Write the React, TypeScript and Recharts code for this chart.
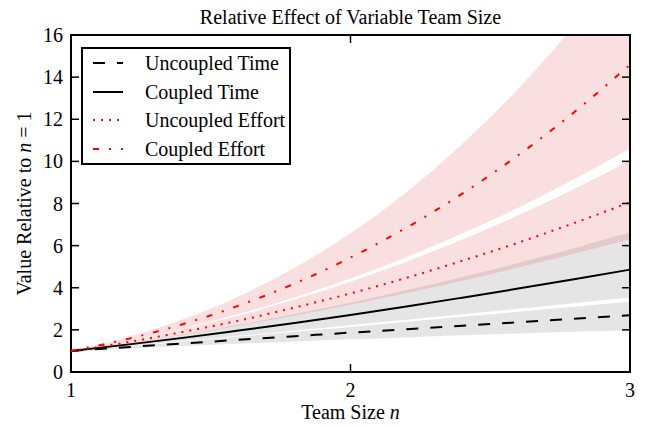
import React from 'react';
import { ComposedChart, Area, Line, XAxis, YAxis, Legend, Label, ReferenceArea } from 'recharts';

// ---- data ----
const teamSize = [1, 1.2, 1.4, 1.6, 1.8, 2, 2.2, 2.4, 2.6, 2.8, 3];
const uncoupledTime = [1, 1.18, 1.35, 1.53, 1.7, 1.87, 2.03, 2.2, 2.36, 2.53, 2.69];
const coupledTime = [1, 1.3, 1.62, 1.97, 2.33, 2.71, 3.11, 3.53, 3.96, 4.4, 4.86];
const uncoupledEffort = [1, 1.41, 1.9, 2.44, 3.06, 3.73, 4.47, 5.28, 6.14, 7.07, 8.06];
const coupledEffort = [1, 1.56, 2.27, 3.15, 4.2, 5.43, 6.85, 8.47, 10.29, 12.33, 14.59];
const uncoupledTimeLow = [1, 1.12, 1.24, 1.34, 1.45, 1.55, 1.64, 1.74, 1.83, 1.91, 2.0];
const uncoupledTimeHigh = [1, 1.22, 1.45, 1.68, 1.91, 2.14, 2.38, 2.62, 2.86, 3.1, 3.35];
const coupledTimeLow = [1, 1.23, 1.47, 1.72, 1.97, 2.22, 2.48, 2.74, 3.0, 3.27, 3.54];
const coupledTimeHigh = [1, 1.37, 1.78, 2.24, 2.75, 3.29, 3.88, 4.51, 5.17, 5.88, 6.62];
const uncoupledEffortLow = [1, 1.36, 1.76, 2.2, 2.68, 3.19, 3.75, 4.33, 4.96, 5.61, 6.3];
const uncoupledEffortHigh = [1, 1.47, 2.03, 2.68, 3.44, 4.29, 5.24, 6.29, 7.44, 8.69, 10.04];
const coupledEffortLow = [1, 1.48, 2.06, 2.75, 3.54, 4.44, 5.45, 6.57, 7.8, 9.15, 10.61];
const coupledEffortHigh = [1, 1.64, 2.5, 3.59, 4.95, 6.59, 8.54, 10.82, 13.45, 16.45, 19.85];

const xTicks = [1, 2, 3];
const yTicks = [0, 2, 4, 6, 8, 10, 12, 14, 16];
const seriesLabels = ['Uncoupled Time', 'Coupled Time', 'Uncoupled Effort', 'Coupled Effort'];

const data = teamSize.map((n, i) => ({
  n,
  ut: uncoupledTime[i],
  ct: coupledTime[i],
  ue: uncoupledEffort[i],
  ce: coupledEffort[i],
  utBand: [uncoupledTimeLow[i], uncoupledTimeHigh[i]],
  ctBand: [coupledTimeLow[i], coupledTimeHigh[i]],
  ueBand: [uncoupledEffortLow[i], uncoupledEffortHigh[i]],
  ceBand: [coupledEffortLow[i], coupledEffortHigh[i]],
}));

// ---- layout ----
const CHART_W = 646;
const CHART_H = 427;
const MARGIN = { top: 35, right: 16, bottom: 25, left: 0 };
const Y_AXIS_W = 71;
const X_AXIS_H = 30;
const PLOT_LEFT = MARGIN.left + Y_AXIS_W;
const PLOT_RIGHT = CHART_W - MARGIN.right;
const PLOT_TOP = MARGIN.top;
const PLOT_BOTTOM = CHART_H - MARGIN.bottom - X_AXIS_H;
const TICK_LEN = 8;
const SERIF = '"Liberation Serif", "Times New Roman", "DejaVu Serif", serif';
const FS = 20;

const GRAY = '#000000';
const GRAY_OP = 0.1;
const PINK = '#d62728';
const PINK_OP = 0.15;
const RED = '#ff0000';

const styles = [
  { color: '#000', dash: '12 12' },
  { color: '#000', dash: undefined as string | undefined },
  { color: RED, dash: '2 6' },
  { color: RED, dash: '6 10 2 10' },
];

const XTick = (props: any) => {
  const { x, y, payload } = props;
  return (
    <g>
      <line x1={x} x2={x} y1={PLOT_BOTTOM} y2={PLOT_BOTTOM - TICK_LEN} stroke="#000" strokeWidth={1.5} />
      <line x1={x} x2={x} y1={PLOT_TOP} y2={PLOT_TOP + TICK_LEN} stroke="#000" strokeWidth={1.5} />
      <text x={x} y={y} dy="0.71em" textAnchor="middle" fontSize={FS} fontFamily={SERIF} fill="#000">
        {payload.value}
      </text>
    </g>
  );
};

const YTick = (props: any) => {
  const { x, y, payload } = props;
  return (
    <g>
      <line x1={PLOT_LEFT} x2={PLOT_LEFT + TICK_LEN} y1={y} y2={y} stroke="#000" strokeWidth={1.5} />
      <line x1={PLOT_RIGHT - TICK_LEN} x2={PLOT_RIGHT} y1={y} y2={y} stroke="#000" strokeWidth={1.5} />
      <text x={x} y={y} dy="0.35em" textAnchor="end" fontSize={FS} fontFamily={SERIF} fill="#000">
        {payload.value}
      </text>
    </g>
  );
};

const XLabel = () => (
  <text
    x={(PLOT_LEFT + PLOT_RIGHT) / 2}
    y={PLOT_BOTTOM + 47}
    textAnchor="middle"
    fontSize={FS}
    fontFamily={SERIF}
    fill="#000"
  >
    Team Size <tspan fontStyle="italic">n</tspan>
  </text>
);

const YLabel = () => {
  const cx = 31;
  const cy = (PLOT_TOP + PLOT_BOTTOM) / 2;
  return (
    <text
      x={cx}
      y={cy}
      transform={`rotate(-90, ${cx}, ${cy})`}
      textAnchor="middle"
      fontSize={FS}
      fontFamily={SERIF}
      fill="#000"
    >
      Value Relative to <tspan fontStyle="italic">n</tspan>
      <tspan>{' = 1'}</tspan>
    </text>
  );
};

const LegendBox = () => (
  <div
    style={{
      boxSizing: 'border-box',
      width: 210,
      height: 118,
      border: '2px solid #000',
      background: '#fff',
      paddingTop: 0,
      fontFamily: SERIF,
      fontSize: FS,
    }}
  >
    {seriesLabels.map((label, i) => (
      <div key={label} style={{ height: 28.5, display: 'flex', alignItems: 'center', whiteSpace: 'nowrap' }}>
        <svg width={30} height={10} style={{ marginLeft: 10, marginRight: 22, display: 'block' }}>
          <line
            x1={0}
            x2={30}
            y1={5}
            y2={5}
            stroke={styles[i].color}
            strokeWidth={2}
            strokeDasharray={styles[i].dash}
          />
        </svg>
        <span style={{ lineHeight: '20px', color: '#000' }}>{label}</span>
      </div>
    ))}
  </div>
);

export default function App() {
  return (
    <div style={{ position: 'absolute', left: 0, top: 0, width: CHART_W, height: CHART_H, fontFamily: SERIF, background: '#fff' }}>
      <div
        style={{
          position: 'absolute',
          left: PLOT_LEFT,
          width: PLOT_RIGHT - PLOT_LEFT,
          top: 7,
          textAlign: 'center',
          fontSize: FS,
          lineHeight: '20px',
          color: '#000',
          whiteSpace: 'nowrap',
        }}
      >
        Relative Effect of Variable Team Size
      </div>
      <ComposedChart width={CHART_W} height={CHART_H} data={data} margin={MARGIN}>
        <XAxis
          dataKey="n"
          type="number"
          domain={[1, 3]}
          ticks={xTicks}
          interval={0}
          allowDataOverflow
          height={X_AXIS_H}
          axisLine={false}
          tickLine={false}
          tickSize={0}
          tickMargin={11}
          tick={<XTick />}
        >
          <Label content={<XLabel />} />
        </XAxis>
        <YAxis
          type="number"
          domain={[0, 16]}
          ticks={yTicks}
          interval={0}
          allowDataOverflow
          width={Y_AXIS_W}
          axisLine={false}
          tickLine={false}
          tickSize={0}
          tickMargin={8}
          tick={<YTick />}
        >
          <Label content={<YLabel />} />
        </YAxis>
        <Area type="monotone" dataKey="utBand" stroke="none" fill={GRAY} fillOpacity={GRAY_OP} isAnimationActive={false} />
        <Area type="monotone" dataKey="ctBand" stroke="none" fill={GRAY} fillOpacity={GRAY_OP} isAnimationActive={false} />
        <Area type="monotone" dataKey="ueBand" stroke="none" fill={PINK} fillOpacity={PINK_OP} isAnimationActive={false} />
        <Area type="monotone" dataKey="ceBand" stroke="none" fill={PINK} fillOpacity={PINK_OP} isAnimationActive={false} />
        <Line type="monotone" dataKey="ut" stroke={styles[0].color} strokeWidth={2} strokeDasharray={styles[0].dash} dot={false} isAnimationActive={false} />
        <Line type="monotone" dataKey="ct" stroke={styles[1].color} strokeWidth={2} dot={false} isAnimationActive={false} />
        <Line type="monotone" dataKey="ue" stroke={styles[2].color} strokeWidth={2} strokeDasharray={styles[2].dash} dot={false} isAnimationActive={false} />
        <Line type="monotone" dataKey="ce" stroke={styles[3].color} strokeWidth={2} strokeDasharray={styles[3].dash} dot={false} isAnimationActive={false} />
        <ReferenceArea x1={1} x2={3} y1={0} y2={16} fill="none" stroke="#000" strokeWidth={2} ifOverflow="visible" />
        <Legend
          layout="vertical"
          align="center"
          verticalAlign="middle"
          content={<LegendBox />}
          wrapperStyle={{ left: 81, top: 47, width: 210, height: 118 }}
        />
      </ComposedChart>
    </div>
  );
}
